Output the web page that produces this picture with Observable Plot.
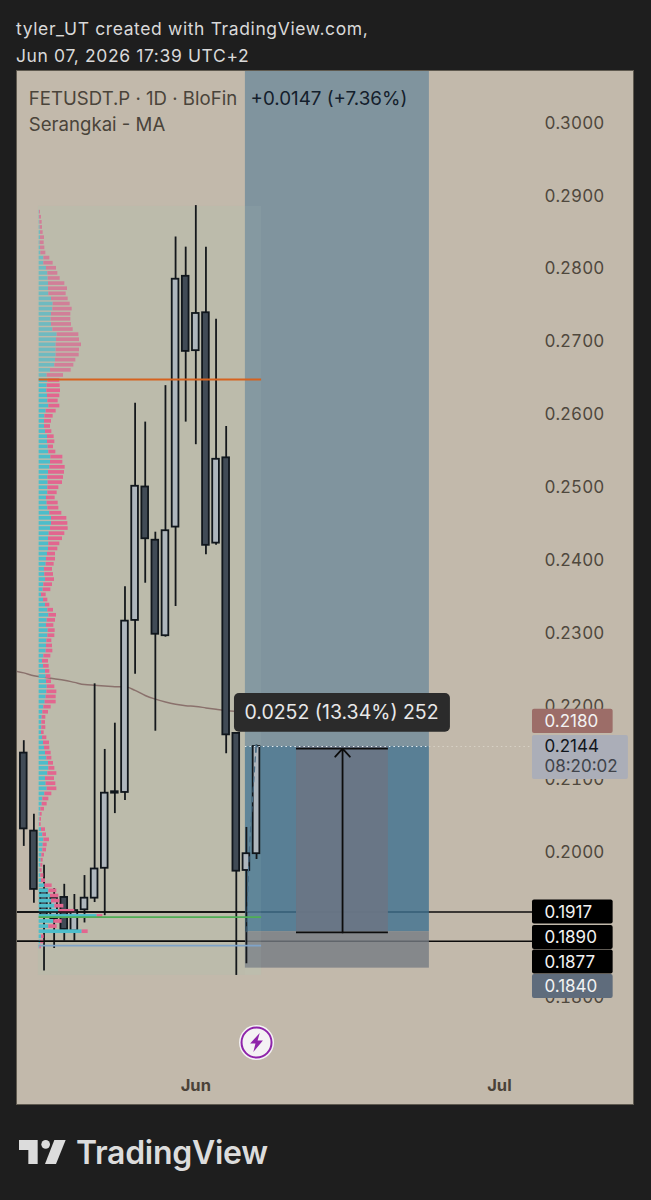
<!DOCTYPE html>
<html><head><meta charset="utf-8">
<script src="https://cdn.jsdelivr.net/npm/d3@7"></script>
<script src="https://cdn.jsdelivr.net/npm/@observablehq/plot@0.6"></script>
<style>
html,body{margin:0;padding:0;background:#1e1e1e;width:651px;height:1200px;overflow:hidden}
body{position:relative;font-family:Inter,"Noto Sans",sans-serif}
#head{position:absolute;left:16px;top:15px;color:#d9d9d9;font-size:17.5px;line-height:27px;letter-spacing:.62px;white-space:nowrap}
#chart{position:absolute;left:16px;top:70px;width:618px;height:1035px}
#chart svg{display:block;outline:1px solid #5f5a50;outline-offset:-1px}
#logo{position:absolute;left:0;top:1010px}
#brand{position:absolute;left:76px;top:1133px;color:#dcdcdc;font-size:32px;line-height:40px;font-weight:600;letter-spacing:-.3px}
</style></head><body>
<div id="head">tyler_UT created with TradingView.com,<br>Jun 07, 2026 17:39 UTC+2</div>
<div id="chart"></div>
<svg id="logo" width="400" height="190" viewBox="0 0 1200 570"><g fill="#dcdcdc"><path d="M57 390H113V462H85V420H57Z"/><circle cx="137" cy="403" r="13"/><path d="M163 390H197L168 462H135Z"/></g></svg>
<div id="brand">TradingView</div>
<script>
// ---- daily candles, first bar 15 May 2026 ----
const opens  = [.2135,.2028,.1947,.1908,.1937,.1891,.1920,.1936,.1977,.2080,.2081,.2317,.2500,.2427,.2296,.2445,.2789,.2687,.2739,.2423,.2540,.2162,.1974,.1997];
const highs  = [.2152,.2051,.1981,.1949,.1955,.1941,.1967,.2230,.2140,.2176,.2363,.2615,.2589,.2438,.2639,.2843,.2829,.2886,.2829,.2730,.2583,.2162,.2033,.2146];
const lows   = [.2007,.1929,.1836,.1867,.1877,.1877,.1902,.1930,.1912,.2052,.2070,.2243,.2368,.2165,.2294,.2336,.2589,.2558,.2407,.2420,.2134,.1830,.1846,.1989];
const closes = [.2031,.1948,.1912,.1936,.1893,.1919,.1936,.1976,.2080,.2082,.2316,.2501,.2429,.2298,.2440,.2785,.2686,.2738,.2420,.2538,.2160,.1973,.1997,.2144];
// moving average, one value per bar
const maValues = [.2245,.2241,.2239,.2237,.2235,.2232,.2229,.2228,.2227,.2226,.2226,.2221,.2214,.2209,.2205,.2202,.2200,.2199,.2197,.2195,.2193,.2192,.2186,.2180];
// volume profile rows, top to bottom
const profileBuy  = [1,1,2,3,4,4,3,4,5,14,14,22,26,27,28,28,29,37,42,41,37,36,37,41,54,52,51,51,51,49,47,34,24,26,24,23,25,26,29,21,17,16,16,19,25,25,27,29,35,34,32,28,26,27,26,
 26,22,24,26,32,37,37,34,30,28,29,28,25,22,21,16,17,19,14,12,7,13,19,26,29,24,22,27,26,23,22,21,14,10,13,19,21,22,24,23,21,18,14,11,9,8,8,7,10,
 13,16,19,23,28,29,26,19,21,24,17,11,9,5,3,2,1,7,11,14,12,11,8,6,5,3,5,7,17,29,34,37,47,59,174,44,29,129,7,5,2];
const profileSell = [3,6,7,7,8,12,12,13,15,18,28,30,30,36,49,57,52,50,51,58,58,59,60,61,65,69,76,70,69,61,57,62,49,36,39,41,37,31,33,30,25,21,18,19,20,22,16,21,36,37,46,48,47,43,33,
 28,26,33,33,36,46,49,53,47,42,33,28,24,27,24,24,26,27,26,23,14,13,13,17,23,25,22,21,21,15,18,20,21,18,17,13,14,15,23,30,30,33,22,17,11,11,12,8,13,
 18,16,17,15,15,18,27,27,29,29,21,18,15,11,6,5,5,12,11,17,12,11,8,6,6,6,9,12,22,24,25,25,27,48,17,25,25,18,8,9,5];
const profileTop = .2877, profileStep = .0007;
// price axis and tags
const priceTicks = [.30,.29,.28,.27,.26,.25,.24,.23,.22,.21,.20,.18];
const monthTicks = ["2026-06-01","2026-07-01"];
const tagLabels  = ["0.2180","0.1917","0.1890","0.1877","0.1840"];
const tagCenters = [.21785,.1917,.1882,.18484,.18148];
const tagFills   = ["#9c6d68","#000000","#000000","#000000","#5f6c7c"];
const levelLines = [.1917,.1877];
const entry = .1890, stop = .1840, last = .2144;

const day = n => new Date(Date.UTC(2026,4,15) + n*864e5);
const candles = opens.map((o,i)=>({date:day(i),i,o,h:highs[i],l:lows[i],c:closes[i]}));
const ma = [{date:day(-1),v:.2248},...maValues.map((v,i)=>({date:day(i),v}))];
const rows = profileBuy.map((b,i)=>({i,b,s:profileSell[i],p:profileTop-i*profileStep}));
const monthsD = monthTicks.map(s=>new Date(s+"T00:00Z"));
const tags = tagLabels.map((t,i)=>({t,p:tagCenters[i],f:tagFills[i]}));

const yTop = .30713, yBot = .16516;
const PS = 1.52, volX = v => day(PS + v/30.36);  // profile origin; 1 unit = 1/30.36 day
const bh = .00025;
const toolA = 21.9, toolB = 40.08, midA = 26.95, midB = 36.03, midX = 31.5;
const tagA = 50.27, tagB = 58.24, tagC = 59.75, labelX = 51.45;
const boxA = 1.45, boxB = 23.5;
const ink = "#4f483d";

const bolt = {draw(c,s){const k=Math.sqrt(s)/20;
  const p=[[3,-9],[-6,1],[-1,1],[-3,9],[6,-2],[1,-2]];
  p.forEach(([x,y],i)=>i?c.lineTo(x*k,y*k):c.moveTo(x*k,y*k));c.closePath();}};

const zoneRect = (y1,y2,fill,a,b,op=.8)=>Plot.rect([0],{x1:()=>day(a),x2:()=>day(b),y1:()=>y1,y2:()=>y2,fill,fillOpacity:op});
const one = [0];

const chart = Plot.plot({
  width:618,height:1035,marginTop:0,marginLeft:0,marginRight:90,marginBottom:26,
  style:{background:"#c2b9ab",fontFamily:"Inter, sans-serif",fontSize:"16px",overflow:"hidden"},
  x:{type:"utc",domain:[day(-.72),day(60.35)],range:[0,618]},
  y:{domain:[yTop,yBot],range:[0,1035]},
  marks:[
    // profile box on the background
    zoneRect(.28848,.1830,"#b6bdab",boxA,boxB,.5),
    // level lines under the position tool
    Plot.ruleY(levelLines,{x1:()=>day(-.72),x2:()=>day(tagA),y:d=>d,stroke:"#0c0c0c",strokeWidth:1.5}),
    // position tool
    zoneRect(yTop,last,"#6f8b9b",toolA,toolB),
    zoneRect(last,entry,"#3e7190",toolA,toolB),
    zoneRect(entry,stop,"#757c83",toolA,toolB),
    zoneRect(last,entry,"#6a7584",midA,midB,.92),
    zoneRect(.28848,.1830,"#d4e0d0",toolA,boxB,.07),
    // moving average
    Plot.line(ma,{x:"date",y:"v",stroke:"#8a716c",strokeWidth:1.5,curve:"monotone-x"}),
    // axes
    Plot.axisY(priceTicks,{anchor:"right",tickSize:0,tickPadding:0,label:null,fill:ink,fontSize:17,dy:0.7,tickFormat:d=>d.toFixed(4)}),
    Plot.axisX(monthsD,{anchor:"bottom",tickSize:0,tickPadding:0,label:null,fill:"#4a4238",fontSize:16.5,fontWeight:700,tickFormat:d3.utcFormat("%b")}),
    // candles
    Plot.ruleX(candles,{x:"date",y1:"l",y2:"h",stroke:"#14181c",strokeWidth:1.8}),
    Plot.rect(candles,{x1:d=>day(d.i-.33),x2:d=>day(d.i+.33),y1:"o",y2:"c",
      fill:d=>d.c>=d.o?"#aeb6bd":"#414b56",stroke:"#10161c",strokeWidth:1.8}),
    // dashed path toward the last close
    Plot.line([[22.05,.1890],[22.25,.1990],[22.6,.2070],[22.95,.2144]],{x:d=>day(d[0]),y:d=>d[1],stroke:"#486c85",strokeWidth:1.2,strokeDasharray:"5 5",curve:"monotone-y"}),
    Plot.arrow(one,{x1:()=>day(22.94),x2:()=>day(22.95),y1:()=>.2136,y2:()=>.2146,stroke:"#486c85",strokeWidth:1.2,headLength:7,headAngle:90}),
    // volume profile
    Plot.rect(rows,{x1:()=>volX(0),x2:d=>volX(d.b),y1:d=>d.p+bh,y2:d=>d.p-bh,fill:d=>d.i<33?"#6fbac0":"#4dbdca"}),
    Plot.rect(rows,{x1:d=>volX(d.b),x2:d=>volX(d.b+d.s),y1:d=>d.p+bh,y2:d=>d.p-bh,fill:d=>d.i<33?"#d17f98":"#e2668f"}),
    // profile levels
    Plot.ruleY([.26475],{x1:()=>day(PS),x2:()=>day(boxB),stroke:"#d6621f",strokeWidth:2}),
    Plot.ruleY([.1910],{x1:()=>day(PS),x2:()=>day(boxB),stroke:"#4fae54",strokeWidth:1.8}),
    Plot.ruleY([.1871],{x1:()=>day(PS),x2:()=>day(boxB),stroke:"#7fa3c9",strokeWidth:1.8}),
    Plot.ruleY(levelLines,{x1:()=>day(-.72),x2:()=>day(toolA),y:d=>d,stroke:"#0c0c0c",strokeWidth:1.5}),
    // last price dotted line
    Plot.ruleY([last],{x1:()=>day(toolA),x2:()=>day(toolB),stroke:"#e8eef2",strokeWidth:1,strokeDasharray:"1.5 3"}),
    Plot.ruleY([last],{x1:()=>day(toolB),x2:()=>day(tagA),stroke:"#d8d2c6",strokeWidth:1,strokeDasharray:"1.5 3"}),
    // measure tool
    Plot.ruleY([.2141,.1889],{x1:()=>day(midA),x2:()=>day(midB),stroke:"#0c0c0c",strokeWidth:1.8}),
    Plot.arrow(one,{x1:()=>day(midX),x2:()=>day(midX),y1:()=>.1889,y2:()=>.2141,stroke:"#0c0c0c",strokeWidth:1.8,headLength:9,headAngle:85}),
    // tooltip
    Plot.rect(one,{x1:()=>day(20.82),x2:()=>day(42.16),y1:()=>.22167,y2:()=>.21636,fill:"#2b2b2b",rx:5}),
    Plot.text(["0.0252 (13.34%) 252"],{x:()=>day(21.81),y:()=>.2190,text:d=>d,textAnchor:"start",fill:"#e8e8e8",fontSize:19.5}),
    // price tags
    Plot.rect(tags,{x1:()=>day(tagA),x2:()=>day(tagB),y1:d=>d.p+.00165,y2:d=>d.p-.00165,fill:"f",rx:2}),
    Plot.text(tags,{x:()=>day(labelX),y:"p",text:"t",textAnchor:"start",fill:"#f2f2f2",fontSize:17,dy:0.5}),
    Plot.rect(one,{x1:()=>day(tagA),x2:()=>day(tagC),y1:()=>.21591,y2:()=>.20988,fill:"#abaeb8",rx:2}),
    Plot.text(["0.2144"],{x:()=>day(labelX),y:()=>.2144,text:d=>d,textAnchor:"start",fill:"#11161c",fontSize:17,dy:0.5}),
    Plot.text(["08:20:02"],{x:()=>day(labelX),y:()=>.2117,text:d=>d,textAnchor:"start",fill:"#3f434a",fontSize:17}),
    // legend
    Plot.text(["FETUSDT.P · 1D · BloFin"],{x:()=>day(.5),y:()=>.3033,text:d=>d,textAnchor:"start",fill:"#4a443a",fontSize:18.6,dy:1}),
    Plot.text(["+0.0147 (+7.36%)"],{x:()=>day(22.4),y:()=>.3033,text:d=>d,textAnchor:"start",fill:"#14202c",fontSize:18.8,dy:1}),
    Plot.text(["Serangkai - MA"],{x:()=>day(.5),y:()=>.29973,text:d=>d,textAnchor:"start",fill:"#4a443a",fontSize:18.6,dy:1}),
    // event badge
    Plot.dot(one,{x:()=>day(23),y:()=>.1738,r:17.5,fill:"#f4f2f4"}),
    Plot.dot(one,{x:()=>day(23),y:()=>.1738,r:15,fill:"none",stroke:"#8e24aa",strokeWidth:2}),
    Plot.dot(one,{x:()=>day(23),y:()=>.1738,r:12,symbol:bolt,fill:"#8e24aa",stroke:"none"})
  ]
});
document.getElementById("chart").append(chart);
</script>
</body></html>
